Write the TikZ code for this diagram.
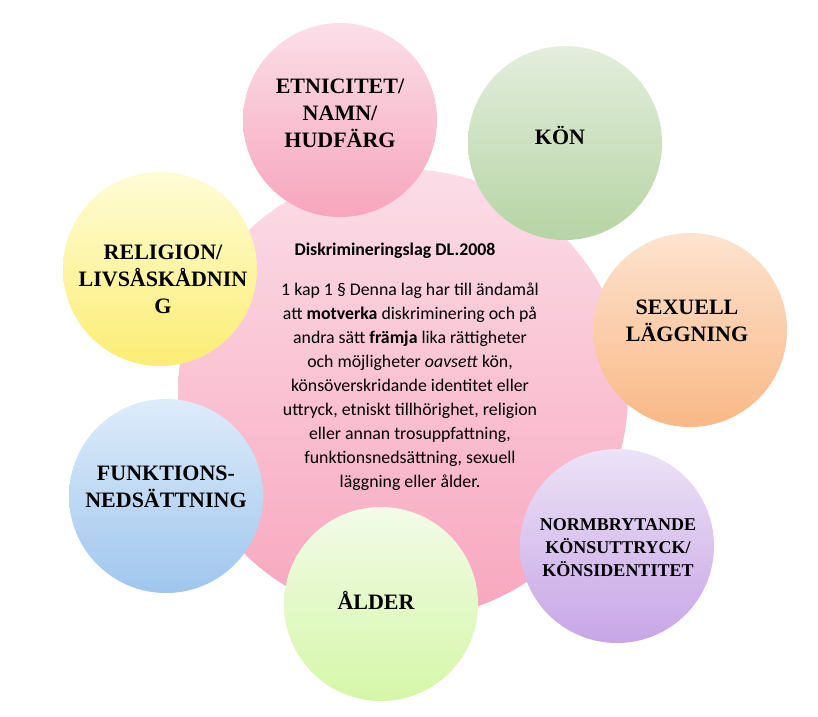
\documentclass[tikz,border=0pt]{standalone}
\usepackage{fontspec}
\setmainfont{Liberation Serif}
\newfontfamily\calfont{Carlito}
\definecolor{pinkT}{HTML}{FBDFE8}
\definecolor{pinkB}{HTML}{F7A5BD}
\definecolor{greenT}{HTML}{E3EEDC}
\definecolor{greenB}{HTML}{B6D4A4}
\definecolor{yellowT}{HTML}{FFFCD6}
\definecolor{yellowB}{HTML}{FBED74}
\definecolor{orangeT}{HTML}{FDE3CF}
\definecolor{orangeB}{HTML}{F9B886}
\definecolor{blueT}{HTML}{DDECFA}
\definecolor{blueB}{HTML}{A0C6EE}
\definecolor{limeT}{HTML}{F2FBE8}
\definecolor{limeB}{HTML}{D5F7A8}
\definecolor{purpT}{HTML}{ECE3F6}
\definecolor{purpB}{HTML}{C7A5E6}
\definecolor{bigT}{HTML}{FBDDE7}
\definecolor{bigB}{HTML}{F8A6BE}
\tikzset{
  bubble/.style={circle, minimum size=194pt, inner sep=0pt, draw=none},
  biglabel/.style={align=center, font=\fontsize{22}{27}\selectfont\bfseries, text=black},
  smalllabel/.style={align=center, font=\fontsize{18}{23}\selectfont\bfseries, text=black},
  lawtext/.style={align=center, font=\calfont\fontsize{17.8}{24}\selectfont, text=black},
}
\begin{document}
\begin{tikzpicture}[x=1pt,y=-1pt]
\useasboundingbox (0,0) rectangle (818,716);
\fill[white] (0,0) rectangle (818,716);
% central circle
\node[circle, minimum size=450pt, inner sep=0pt, top color=bigT, bottom color=bigB] (center) at (403,394) {};
\node[lawtext, font=\calfont\fontsize{17.8}{20}\selectfont\bfseries] (title) at (395,251) {Diskrimineringslag DL.2008};
\node[lawtext, anchor=north] (law) at (410,279) {1 kap 1 § Denna lag har till ändamål\\
att \textbf{motverka} diskriminering och på\\
andra sätt \textbf{främja} lika rättigheter\\
och möjligheter \textit{oavsett} kön,\\
könsöverskridande identitet eller\\
uttryck, etniskt tillhörighet, religion\\
eller annan trosuppfattning,\\
funktionsnedsättning, sexuell\\
läggning eller ålder.};
% satellite circles
\node[bubble, top color=pinkT, bottom color=pinkB] (cetn) at (340,120) {};
\node[bubble, top color=greenT, bottom color=greenB] (ckon) at (565,143) {};
\node[bubble, top color=yellowT, bottom color=yellowB] (crel) at (160,269) {};
\node[bubble, top color=orangeT, bottom color=orangeB] (csex) at (690,330) {};
\node[bubble, top color=blueT, bottom color=blueB] (cfun) at (166,496) {};
\node[bubble, top color=limeT, bottom color=limeB] (calder) at (381,604) {};
\node[bubble, top color=purpT, bottom color=purpB] (cnorm) at (617,546) {};
% labels
\node[biglabel] (letn) at (340,113) {ETNICITET/\\NAMN/\\HUDFÄRG};
\node[biglabel] (lkon) at (560,135) {KÖN};
\node[biglabel] (lrel) at (163,279) {RELIGION/\\LIVSÅSKÅDNIN\\G};
\node[biglabel] (lsex) at (687,321) {SEXUELL\\LÄGGNING};
\node[biglabel] (lfun) at (166,487) {FUNKTIONS-\\NEDSÄTTNING};
\node[biglabel] (lalder) at (376,600) {ÅLDER};
\node[smalllabel] (lnorm) at (618,548) {NORMBRYTANDE\\KÖNSUTTRYCK/\\KÖNSIDENTITET};
\end{tikzpicture}
\end{document}
